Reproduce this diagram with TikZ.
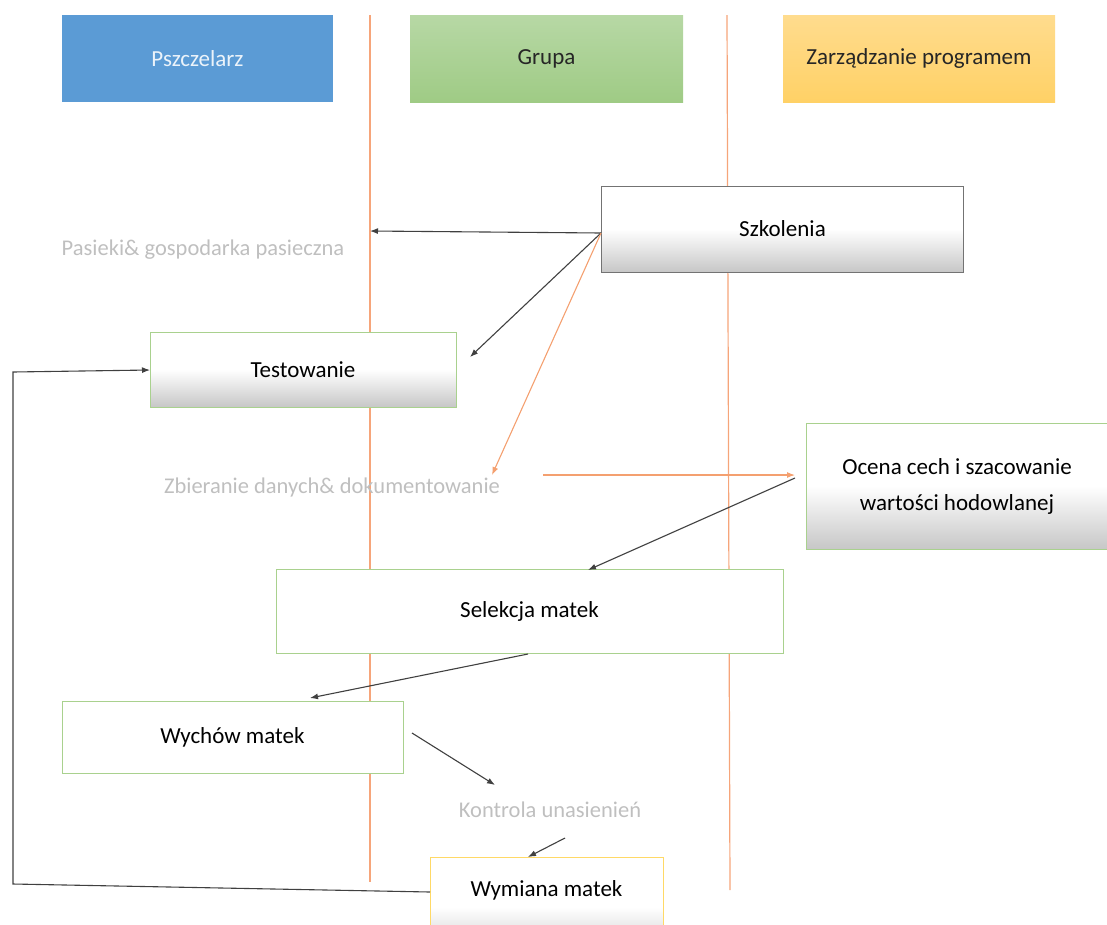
\documentclass[tikz,border=0pt]{standalone}
\usepackage{fontspec}
\setmainfont{Carlito}
\usetikzlibrary{arrows.meta}
\definecolor{hblue}{HTML}{5B9BD5}
\definecolor{hgreenT}{HTML}{B7D8A5}
\definecolor{hgreenB}{HTML}{9FCB85}
\definecolor{horT}{HTML}{FFDC8E}
\definecolor{horB}{HTML}{FFD166}
\definecolor{bgreen}{HTML}{A9D18E}
\definecolor{byellow}{HTML}{FFD966}
\definecolor{lorange}{HTML}{F6A57A}
\definecolor{aorange}{HTML}{F4A070}
\definecolor{lgray}{HTML}{BFBFBF}
\definecolor{dgray}{HTML}{404040}
\tikzset{
  base/.style={inner sep=0pt, outer sep=0pt, align=center, font=\fontsize{23}{27}\selectfont},
  header/.style={base, draw=none},
  gradbox/.style={base, top color=white, bottom color=black!22, middle color=white, line width=1pt},
  plainbox/.style={base, fill=white, draw=bgreen, line width=1pt},
  graytext/.style={inner sep=0pt, text=lgray, font=\fontsize{22.5}{26}\selectfont},
  lane/.style={draw=lorange, line width=1.2pt},
  arr/.style={draw=dgray, line width=1.1pt, -{Latex[length=8pt,width=6pt]}},
  oarr/.style={draw=aorange, line width=1.1pt, -{Latex[length=8pt,width=6pt]}},
}
\begin{document}
\begin{tikzpicture}[x=1pt,y=-1pt]
\useasboundingbox (0,0) rectangle (1107,924);
\clip (0,0) rectangle (1107,924);
% lanes
\coordinate (l1t) at (370,15);
\coordinate (l1b) at (370,882);
\coordinate (l2t) at (727,15);
\coordinate (l2b) at (730,890);
\draw[lane] (l1t) -- (l1b);
\draw[lane] (l2t) -- (l2b);
% headers
\node[header, fill=hblue, text=white!88!hblue, minimum width=271pt, minimum height=87pt] (psz) at (197.5,58.5) {Pszczelarz};
\node[header, top color=hgreenT, bottom color=hgreenB, text=black!85, minimum width=273pt, minimum height=87pt] (gru) at (546.5,58.5) {Grupa};
\node[header, top color=horT, bottom color=horB, text=black!85, minimum width=272pt, minimum height=87pt] (zar) at (919,58.5) {Zarządzanie programem};
% boxes
\node[gradbox, draw=black!55, minimum width=362pt, minimum height=86pt] (szk) at (782.5,229) {Szkolenia};
\node[gradbox, draw=bgreen, minimum width=306pt, minimum height=75pt] (tes) at (303,369.5) {Testowanie};
\node[gradbox, draw=bgreen, minimum width=302pt, minimum height=126pt] (oce) at (957,486) {Ocena cech i szacowanie\\[9pt]wartości hodowlanej};
\node[plainbox, minimum width=507pt, minimum height=84pt] (sel) at (529.5,611) {Selekcja matek};
\node[plainbox, minimum width=341pt, minimum height=72pt] (wyc) at (232.5,737) {Wychów matek};
\node[gradbox, draw=byellow, minimum width=233pt, minimum height=100pt] (wym) at (546.5,907) {};
\node[base] (wymt) at (546.5,890) {Wymiana matek};
% gray texts
\node[graytext] (pas) at (203,250) {Pasieki\& gospodarka pasieczna};
\node[graytext] (zbi) at (332,487) {Zbieranie danych\& dokumentowanie};
\node[graytext] (kon) at (550,810) {Kontrola unasienień};
% connector points
\coordinate (s0) at (601,233);
\coordinate (pa) at (370,231);
\coordinate (te) at (470,357);
\coordinate (zb) at (492,475);
\coordinate (zbr) at (543,475);
\coordinate (ocl) at (795,475);
\coordinate (ocs) at (795,478);
\coordinate (selt) at (588,570);
\coordinate (selb) at (528,654);
\coordinate (wyct) at (310,698);
\coordinate (wycr) at (412,733);
\coordinate (kont) at (495,785);
\coordinate (konb) at (565,838);
\coordinate (wymt2) at (528,857);
\coordinate (wyml) at (430,892);
\coordinate (fb1) at (13,884);
\coordinate (fb2) at (13,372);
\coordinate (tesl) at (150,370);
% connectors
\draw[arr] (s0) -- (pa);
\draw[arr] (s0) -- (te);
\draw[oarr] (s0) -- (zb);
\draw[oarr] (zbr) -- (ocl);
\draw[arr] (ocs) -- (selt);
\draw[arr] (selb) -- (wyct);
\draw[arr] (wycr) -- (kont);
\draw[arr] (konb) -- (wymt2);
\draw[arr] (wyml) -- (fb1) -- (fb2) -- (tesl);
\end{tikzpicture}
\end{document}
